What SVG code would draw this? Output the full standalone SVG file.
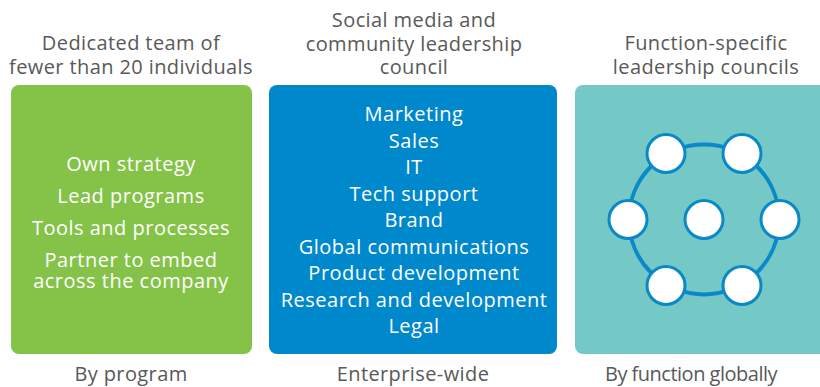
<svg xmlns="http://www.w3.org/2000/svg" width="820" height="387" viewBox="0 0 820 387">
<style>
.hd{font-family:"Open Sans","Liberation Sans",sans-serif;font-size:20px;letter-spacing:0.4px;fill:#595959;text-anchor:middle}
.wt{font-family:"Open Sans","Liberation Sans",sans-serif;font-size:20px;letter-spacing:0.5px;fill:#ffffff;text-anchor:middle}
.ring{fill:none;stroke:#0a88c8;stroke-width:4}
.dot{fill:#ffffff;stroke:#0a88c8;stroke-width:3}
</style>
<rect width="820" height="387" fill="#ffffff"/>
<g id="program">
<text class="hd" x="131" y="50">Dedicated team of</text>
<text class="hd" x="131" y="74">fewer than 20 individuals</text>
<rect x="11" y="85" width="241" height="269" rx="8" fill="#84c348"/>
<text class="wt" x="131" y="171">Own strategy</text>
<text class="wt" x="131" y="203">Lead programs</text>
<text class="wt" x="131" y="235">Tools and processes</text>
<text class="wt" x="131" y="267">Partner to embed</text>
<text class="wt" x="131" y="288">across the company</text>
<text class="hd" x="131" y="381">By program</text>
</g>
<g id="enterprise">
<text class="hd" x="414" y="27">Social media and</text>
<text class="hd" x="414" y="51">community leadership</text>
<text class="hd" x="414" y="74">council</text>
<rect x="269" y="85" width="288" height="269" rx="8" fill="#0088cc"/>
<text class="wt" x="414" y="121">Marketing</text>
<text class="wt" x="414" y="147.5">Sales</text>
<text class="wt" x="414" y="174">IT</text>
<text class="wt" x="414" y="200.5">Tech support</text>
<text class="wt" x="414" y="227">Brand</text>
<text class="wt" x="414" y="253.5">Global communications</text>
<text class="wt" x="414" y="280">Product development</text>
<text class="wt" x="414" y="306.5">Research and development</text>
<text class="wt" x="414" y="333">Legal</text>
<text class="hd" x="413" y="381">Enterprise-wide</text>
</g>
<g id="function">
<text class="hd" x="706" y="50">Function-specific</text>
<text class="hd" x="706" y="74">leadership councils</text>
<rect x="575" y="85" width="260" height="269" rx="8" fill="#74c9c6"/>
<text class="hd" x="691" y="381" style="letter-spacing:-0.5px">By function globally</text>
</g>
<g id="connectors">
<circle class="ring" cx="704" cy="219.5" r="75"/>
</g>
<g id="council-members">
<circle class="dot" cx="666" cy="153.5" r="19"/>
<circle class="dot" cx="742" cy="153.5" r="19"/>
<circle class="dot" cx="628" cy="219.5" r="19"/>
<circle class="dot" cx="704" cy="219.5" r="19"/>
<circle class="dot" cx="780" cy="219.5" r="19"/>
<circle class="dot" cx="666" cy="285.5" r="19"/>
<circle class="dot" cx="742" cy="285.5" r="19"/>
</g>
</svg>
